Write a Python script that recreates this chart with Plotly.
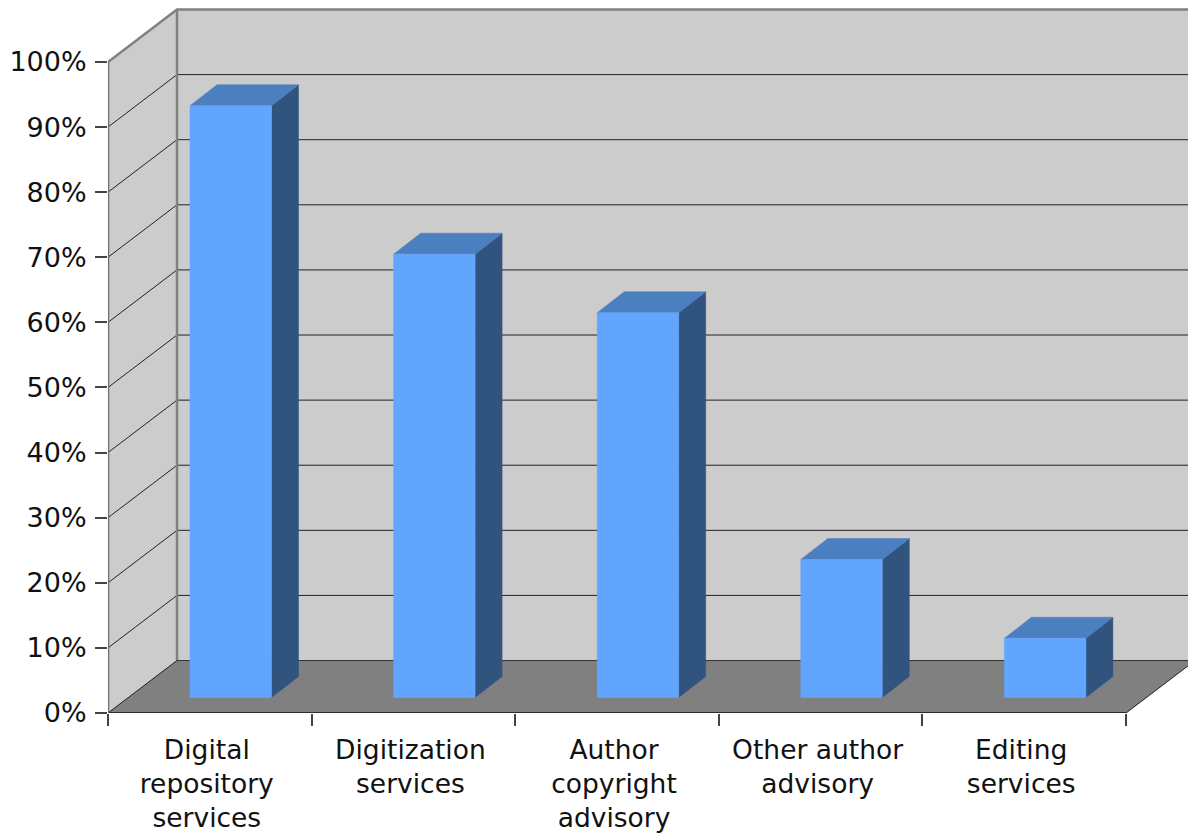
import plotly.graph_objects as go

categories = ["Digital<br>repository<br>services", "Digitization<br>services",
              "Author<br>copyright<br>advisory", "Other author<br>advisory", "Editing<br>services"]
values = [90.9, 68.1, 59.1, 21.2, 9.1]
y_ticks = [0, 10, 20, 30, 40, 50, 60, 70, 80, 90, 100]

W, H = 1188, 834
L, B = 108, 834 - 713.5
PX_CAT, PX_PCT = 203.6, 6.515
DX, DY = 69 / PX_CAT, 52.5 / PX_PCT
BAR_X, BAR_W = 82 / PX_CAT, 81.5 / PX_CAT
BAR_BASE = 15.5 / PX_PCT
BAR_DX, BAR_DY = 27 / PX_CAT, 21 / PX_PCT
N = len(categories)
GREY, DARK = "#808080", "#222222"

fig = go.Figure()

def poly(xs, ys, fill):
    fig.add_trace(go.Scatter(x=xs + xs[:1], y=ys + ys[:1], mode="lines", fill="toself", fillcolor=fill,
                             line=dict(color=fill, width=0.5), hoverinfo="skip", showlegend=False))

def line(xs, ys, color, width):
    fig.add_trace(go.Scatter(x=xs, y=ys, mode="lines", line=dict(color=color, width=width),
                             hoverinfo="skip", showlegend=False))

# walls
poly([DX, N + DX, N + DX, DX], [DY, DY, 100 + DY, 100 + DY], "#CCCCCC")
poly([0, DX, DX, 0], [0, DY, 100 + DY, 100], "#CCCCCC")
# grid
for t in y_ticks[1:-1]:
    line([0, DX, N + DX], [t, t + DY, t + DY], DARK, 1)
# wall edges
line([0, DX, N + DX], [100, 100 + DY, 100 + DY], GREY, 2.5)
line([DX, DX], [DY, 100 + DY], GREY, 2.5)
# floor
poly([0, N, N + DX, DX], [0, 0, DY, DY], "#808080")
line([DX, N + DX], [DY, DY], "#333333", 1)
line([0, DX], [0, DY], "#222222", 1)
line([N, N + DX], [0, DY], "#222222", 1)
line([0, N], [0, 0], "#111111", 1.5)

# bars
for i, v in enumerate(values):
    x0, x1 = i + BAR_X, i + BAR_X + BAR_W
    y0, y1 = BAR_BASE, BAR_BASE + v
    poly([x1, x1 + BAR_DX, x1 + BAR_DX, x1], [y0, y0 + BAR_DY, y1 + BAR_DY, y1], "#31547F")
    poly([x0, x1, x1 + BAR_DX, x0 + BAR_DX], [y1, y1, y1 + BAR_DY, y1 + BAR_DY], "#4C7FBF")
    poly([x0, x1, x1, x0], [y0, y0, y1, y1], "#62A5FF")

font = dict(family="DejaVu Sans, Verdana, sans-serif", size=26.5, color="#111111")
yfont = dict(font, size=27)
fig.update_layout(
    width=W, height=H, margin=dict(l=L, r=0, t=0, b=B, pad=0, autoexpand=False),
    paper_bgcolor="white", plot_bgcolor="white", showlegend=False, font=font,
    xaxis=dict(range=[0, (W - L) / PX_CAT], showgrid=False, zeroline=False, showline=False,
               tickmode="array", tickvals=[i + 0.5 - 3 / PX_CAT for i in range(N)], ticktext=categories,
               ticks="", ticklen=0, tickangle=0, ticklabeloverflow="allow", tickfont=font, ticklabelstandoff=18,
               minor=dict(tickmode="array", tickvals=list(range(N + 1)), ticks="outside",
                          ticklen=12, tickwidth=1.5, tickcolor="#444444", showgrid=False)),
    yaxis=dict(range=[0, (H - B) / PX_PCT], showgrid=False, zeroline=False,
               showline=False, tickmode="array", tickvals=y_ticks, ticktext=[f"{t}%" for t in y_ticks],
               ticks="outside", ticklen=12, tickwidth=1.5, tickcolor="#444444", tickfont=yfont,
               ticklabelstandoff=3),
)
fig.add_trace(go.Scatter(x=[0, 0], y=[0, 100], mode="lines", line=dict(color="#707070", width=2.5),
                         hoverinfo="skip", showlegend=False))
fig.write_html("out.html", config={"displayModeBar": False},
               post_script="document.body.style.margin='0';document.body.style.overflow='hidden';")
